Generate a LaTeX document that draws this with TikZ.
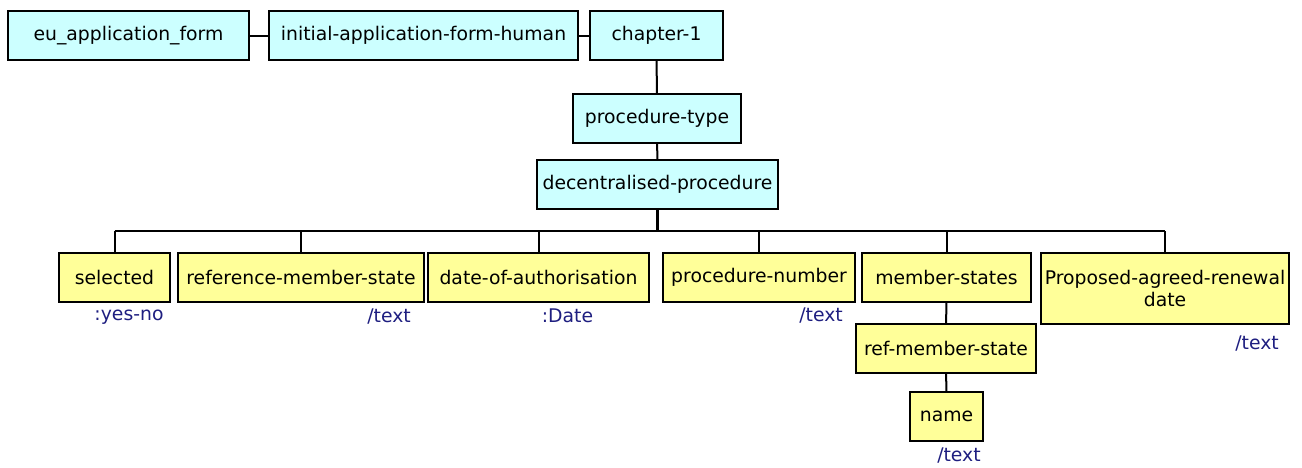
\documentclass[tikz,border=0pt]{standalone}
\usepackage{fontspec}
\setmainfont{DejaVu Sans}
\usepackage{tikz}
\definecolor{elcyan}{RGB}{204,255,255}
\definecolor{elyellow}{RGB}{255,255,153}
\definecolor{typeblue}{RGB}{30,30,128}
\tikzset{
    elem/.style={draw=black, line width=2pt, minimum height=49pt, inner sep=2pt, font=\fontsize{18.8}{22}\selectfont},
    top/.style={elem, fill=elcyan},
    leaf/.style={elem, fill=elyellow},
    typ/.style={text=typeblue, inner sep=0pt, font=\fontsize{18.8}{22}\selectfont},
    link/.style={draw=black, line width=2pt}
}

\begin{document}
\begin{tikzpicture}[x=1pt, y=-1pt]
        \useasboundingbox (0,0) rectangle (1302,467);
        % top row
        \node[top, minimum width=241pt] (euform) at (128.5,35.5) {eu\_application\_form};
        \node[top, minimum width=309pt] (initform) at (423.5,35.5) {initial-application-form-human};
        \node[top, minimum width=133pt] (chap) at (656.5,35.5) {chapter-1};
        \node[top, minimum width=168pt] (proctype) at (657,118.5) {procedure-type};
        \node[top, minimum width=241pt] (decproc) at (657.5,184.5) {decentralised-procedure};
        % children
        \node[leaf, minimum width=111pt] (sel) at (114.5,277.5) {selected};
        \node[leaf, minimum width=246pt] (refms) at (301,277.5) {reference-member-state};
        \node[leaf, minimum width=221pt] (dateauth) at (538.5,277.5) {date-of-authorisation};
        \node[leaf, minimum width=192pt] (procnum) at (759,277.5) {procedure-number};
        \node[leaf, minimum width=169pt] (mstates) at (946.5,277.5) {member-states};
        \node[leaf, minimum width=248pt, minimum height=71pt, align=center] (renewal) at (1165,288.5) {Proposed-agreed-renewal\\date};
        \node[leaf, minimum width=180pt] (refstate) at (946,348.5) {ref-member-state};
        \node[leaf, minimum width=73pt] (name) at (946.5,416.5) {name};
        % types
        \node[typ] (selT) at (129,317) {:yes-no};
        \node[typ, anchor=east] (refmsT) at (411,317) {/text};
        \node[typ] (dateauthT) at (567.5,316) {:Date};
        \node[typ, anchor=east] (procnumT) at (843,316) {/text};
        \node[typ, anchor=east] (renewalT) at (1279,344) {/text};
        \node[typ] (nameT) at (959,456) {/text};
        % links
        \coordinate (bus) at (657,231);
        \draw[link] (euform) -- (initform);
        \draw[link] (initform) -- (chap);
        \draw[link] (chap) -- (proctype);
        \draw[link] (proctype) -- (decproc);
        \draw[link, line width=2.8pt] (decproc.south) -- (decproc.south |- bus);
        \draw[link] (sel.north |- bus) -- (renewal.north |- bus);
        \foreach \kid in {sel,refms,dateauth,procnum,mstates,renewal}{
            \draw[link] (\kid.north) -- (\kid.north |- bus);
        }
        \draw[link] (mstates) -- (refstate);
        \draw[link] (refstate) -- (name);
    \end{tikzpicture}
\end{document}
